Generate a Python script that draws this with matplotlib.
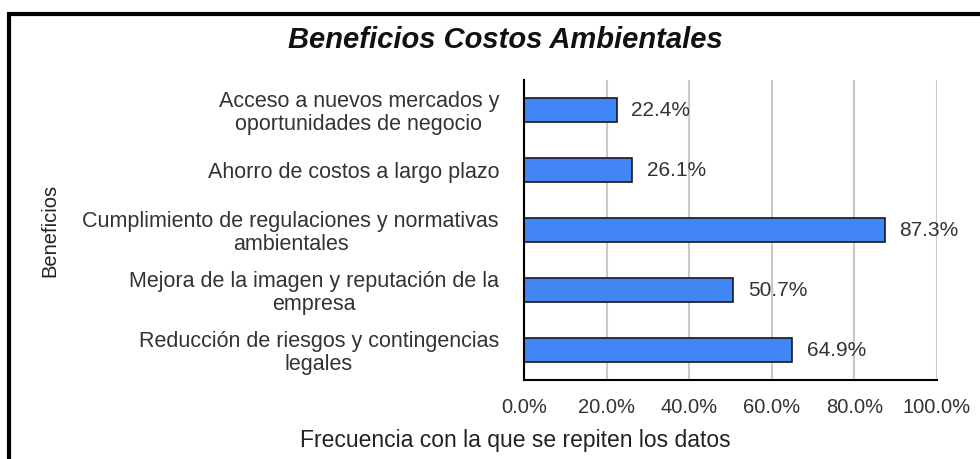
import matplotlib
matplotlib.use('Agg')
import matplotlib.pyplot as plt
from matplotlib.patches import Rectangle
from matplotlib.ticker import FuncFormatter

# Data
categorias = [
    'Acceso a nuevos mercados y\noportunidades de negocio',
    'Ahorro de costos a largo plazo',
    'Cumplimiento de regulaciones y normativas\nambientales',
    'Mejora de la imagen y reputación de la\nempresa',
    'Reducción de riesgos y contingencias\nlegales',
]
porcentajes = [22.4, 26.1, 87.3, 50.7, 64.9]
ticks_x = [0, 20, 40, 60, 80, 100]

plt.rcParams['font.family'] = ['Liberation Sans', 'DejaVu Sans']

fig = plt.figure(figsize=(9.8, 4.59), dpi=100)
ax = fig.add_axes([524 / 980, 1 - 380 / 459, 413 / 980, 300 / 459])

y = list(range(len(categorias)))
ax.barh(y, porcentajes, height=0.4, color='#4285f4', edgecolor='#1a1a1a', linewidth=1.2, zorder=3)
ax.set_ylim(len(categorias) - 0.5, -0.5)
ax.set_xlim(0, 100)

for yi, v in zip(y, porcentajes):
    ax.text(v + 3.6, yi, f'{v:.1f}%', va='center', ha='left', fontsize=15, color='#333333')

ax.set_yticks(y)
ax.set_yticklabels(categorias, fontsize=15.5, color='#333333', linespacing=1.1,
                   multialignment='center')
ax.set_xticks(ticks_x)
ax.xaxis.set_major_formatter(FuncFormatter(lambda v, p: f'{v:.1f}%'))
ax.tick_params(axis='x', labelsize=14.5, labelcolor='#333333', length=0, pad=13)
ax.tick_params(axis='y', length=0, pad=18)

ax.grid(axis='x', color='#c8c8c8', linewidth=1.5, zorder=0)
for s in ['top', 'right']:
    ax.spines[s].set_visible(False)
ax.spines['left'].set_linewidth(1.5)
ax.spines['bottom'].set_linewidth(1.5)
ax.spines['left'].set_zorder(4)

fig.text(505 / 980, 1 - 40 / 459, 'Beneficios Costos Ambientales', ha='center', va='center',
         fontsize=21, fontweight='bold', fontstyle='italic', color='#111111')
fig.text(515 / 980, 1 - 440 / 459, 'Frecuencia con la que se repiten los datos', ha='center', va='center',
         fontsize=16.5, color='#222222')
fig.text(50 / 980, 1 - 230 / 459, 'Beneficios', ha='center', va='center', rotation=90,
         fontsize=14.5, color='#222222')

# black frame around the chart
fig.patches.append(Rectangle((9 / 980, -0.1), 1.1, 1 - 14 / 459 + 0.1, transform=fig.transFigure,
                             fill=False, edgecolor='black', linewidth=3, clip_on=False))

fig.savefig('out.png', dpi=100)
